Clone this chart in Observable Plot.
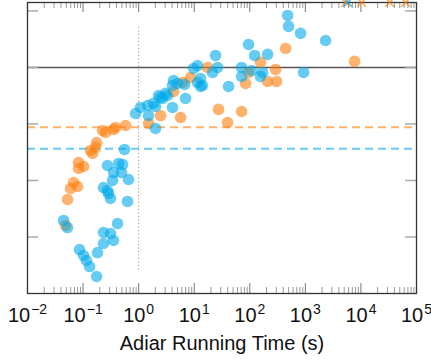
<!DOCTYPE html>
<html><head><meta charset="utf-8">
<script src="https://cdn.jsdelivr.net/npm/d3@7"></script>
<script src="https://cdn.jsdelivr.net/npm/@observablehq/plot@0.6"></script>
<style>body{margin:0;background:#fff}</style>
</head><body><div id="chart"></div>
<script>
// Blue series: running time (s) and ratio
const blueTime = [479, 499, 820, 2312, 95, 122, 209, 24.2, 11.5, 9.73, 21.4, 26.3, 13.0, 11.5, 14.1, 4.25, 4.07, 5.01, 6.70, 2.28, 2.48, 3.31, 1.85, 2.01, 1.45, 1.08, 4.07, 6.98, 0.879, 1.51, 2.01, 0.557, 71.1, 108, 170, 156, 71.1, 929, 41.5, 0.275, 0.435, 0.513, 0.353, 0.492, 0.339, 0.658, 0.233, 0.275, 0.287, 0.312, 0.631, 0.0445, 0.0525, 0.417, 0.233, 0.312, 0.233, 0.353, 0.0863, 0.102, 0.115, 0.131, 0.182, 0.175, 3.05, 13.0, 2.69];
const blueRatio = [8.32, 5.32, 4.0, 3.0, 2.55, 1.63, 1.70, 1.63, 1.08, 0.96, 0.815, 1.0, 0.639, 0.542, 0.48, 0.589, 0.48, 0.521, 0.50, 0.319, 0.294, 0.319, 0.231, 0.204, 0.212, 0.196, 0.196, 0.283, 0.153, 0.141, 0.0832, 0.0354, 1.0, 0.885, 0.815, 0.693, 0.693, 0.815, 0.461, 0.0184, 0.0200, 0.0192, 0.0138, 0.0138, 0.0100, 0.0104, 0.0075, 0.00665, 0.00589, 0.0048, 0.00425, 0.00196, 0.00147, 0.00173, 0.0012, 0.00115, 0.000767, 0.000867, 0.0006, 0.00047, 0.000384, 0.0003, 0.00053, 0.0002, 0.347, 0.461, 0.283];
// Orange series
const orangeTime = [17.4, 8.59, 4.25, 6.17, 2.48, 5.68, 1.51, 0.581, 0.384, 0.353, 0.254, 0.224, 0.175, 0.168, 0.136, 0.148, 0.0828, 0.102, 0.0828, 0.0673, 0.0794, 0.0594, 0.0525, 0.0483, 441, 156, 7690, 95, 291, 84, 209, 303, 27.4, 71.1, 39.8];
const orangeRatio = [1.0, 0.665, 0.376, 0.542, 0.141, 0.130, 0.102, 0.094, 0.0867, 0.080, 0.0707, 0.0767, 0.047, 0.0384, 0.034, 0.030, 0.0208, 0.0177, 0.0163, 0.0092, 0.00783, 0.00721, 0.00461, 0.0016, 2.17, 1.23, 1.28, 0.815, 0.922, 0.521, 0.565, 0.565, 0.181, 0.166, 0.106];
// Points beyond the top of the chart
const orangeOverTime = [5300, 10280, 32800, 63700];
const blueOverTime = [5800];
// Reference lines
const refRatio = 1;
const orangeThreshold = 0.0877;
const blueThreshold = 0.0364;
const refTime = 1;
const refTimeSpan = [0.00026, 5.5];
// Scales / ticks
const timeDomain = [1e-2, 1e5];
const ratioDomain = [1e-4, 14.1];
const xMajor = [1e-2, 1e-1, 1e0, 1e1, 1e2, 1e3, 1e4, 1e5];
const xMinor = xMajor.slice(0, -1).flatMap(d => [2,3,4,5,6,7,8,9].map(m => m * d));
const yMajor = [1e-3, 1e-2, 1e-1, 1e0, 1e1];
const xLabel = "Adiar Running Time (s)";

const BLUE = "#00aaeb", ORANGE = "#ff7f0e";
const W = 431, H = 362, mL = 27, mR = 15, mT = 2, mB = 69;
const ih = H - mT - mB, iw = W - mL - mR;
const FONT = "'Liberation Sans', Arial, sans-serif";

const blue = blueTime.map((t, i) => ({t, r: blueRatio[i]}));
const orange = orangeTime.map((t, i) => ({t, r: orangeRatio[i]}));

const chart = Plot.plot({
  width: W, height: H,
  marginLeft: mL, marginRight: mR, marginTop: mT, marginBottom: mB,
  style: {fontFamily: FONT, background: "#fff"},
  x: {type: "log", domain: timeDomain},
  y: {type: "log", domain: ratioDomain, axis: null},
  marks: [
    Plot.ruleX([refTime], {y1: refTimeSpan[0], y2: refTimeSpan[1], stroke: "#888", strokeDasharray: "1,2.5", strokeWidth: 1}),
    Plot.ruleY([orangeThreshold], {stroke: ORANGE, strokeOpacity: 0.6, strokeWidth: 2, strokeDasharray: "8,5"}),
    Plot.ruleY([blueThreshold], {stroke: BLUE, strokeOpacity: 0.6, strokeWidth: 2, strokeDasharray: "8,5"}),
    Plot.ruleY([refRatio], {stroke: "#555", strokeWidth: 1.5}),
    Plot.dot(orange, {x: "t", y: "r", r: 5.8, fill: ORANGE, fillOpacity: 0.6, stroke: "none"}),
    Plot.dot(blue, {x: "t", y: "r", r: 5.8, fill: BLUE, fillOpacity: 0.6, stroke: "none"}),
    // ticks (inward) bottom & top
    Plot.tickX(xMajor, {x: d => d, insetTop: ih - 10, stroke: "#777", strokeWidth: 1}),
    Plot.tickX(xMinor, {x: d => d, insetTop: ih - 6, stroke: "#999", strokeWidth: 1}),
    Plot.tickX(xMajor, {x: d => d, insetBottom: ih - 10, stroke: "#777", strokeWidth: 1}),
    Plot.tickX(xMinor, {x: d => d, insetBottom: ih - 6, stroke: "#999", strokeWidth: 1}),
    Plot.tickY(yMajor, {y: d => d, insetRight: iw - 11, stroke: "#aaa", strokeWidth: 1.5}),
    Plot.tickY(yMajor, {y: d => d, insetLeft: iw - 11, stroke: "#aaa", strokeWidth: 1.5}),
    Plot.frame({stroke: "#333", strokeWidth: 1.3}),
    Plot.dot(orangeOverTime, {x: d => d, y: () => ratioDomain[1], symbol: "times", r: 4, stroke: ORANGE, strokeOpacity: 0.7, strokeWidth: 1.5}),
    Plot.dot(blueOverTime, {x: d => d, y: () => ratioDomain[1], symbol: "times", r: 4, stroke: BLUE, strokeOpacity: 0.7, strokeWidth: 1.5}),
    Plot.axisX(xMajor, {tickSize: 0, tickPadding: 14, tickFormat: d => String(Math.round(Math.log10(d))), fontSize: 20, label: null, fill: "#111"}),
    Plot.text([xLabel], {text: d => d, frameAnchor: "bottom", dy: 56, fontSize: 20, fill: "#111"})
  ]
});
// Render tick labels as 10 with a superscript exponent
chart.querySelectorAll('g[aria-label="x-axis tick label"] text').forEach(t => {
  const e = t.textContent.replace("-", "\u2212");
  t.textContent = "10";
  const s = document.createElementNS("http://www.w3.org/2000/svg", "tspan");
  s.setAttribute("dy", "-8");
  s.setAttribute("dx", "1");
  s.setAttribute("font-size", "14");
  s.textContent = e;
  t.appendChild(s);
});
document.getElementById("chart").appendChild(chart);
</script>
</body></html>
